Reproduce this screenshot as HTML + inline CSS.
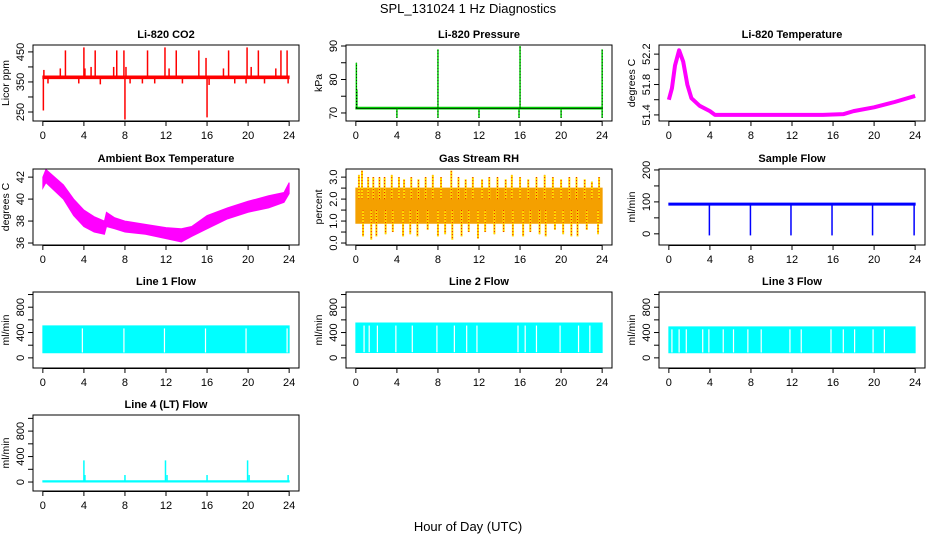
<!DOCTYPE html>
<html><head><meta charset="utf-8"><style>
body{margin:0;background:#fff}
svg{display:block;font-family:"Liberation Sans",sans-serif}
</style></head><body>
<svg id="c" width="936" height="540" xmlns="http://www.w3.org/2000/svg">
<text x="468" y="13" text-anchor="middle" font-size="13">SPL_131024  1 Hz Diagnostics</text>
<text x="468" y="531" text-anchor="middle" font-size="13">Hour of Day (UTC)</text>
</svg>
<script>
// ---- data ----
const xTicks=[0,4,8,12,16,20,24];
// CO2
const co2BandT=[0,24];const co2BandLo=[361,361];const co2BandHi=[370,370];
const co2SpikeT=[0.05,0.1,0.5,1.7,2.2,3.5,4.0,4.1,4.7,5.1,5.6,6.9,7.2,7.9,8.0,8.1,8.5,9.7,10.2,10.9,11.3,11.9,12.3,13.0,13.6,14.0,15.2,15.9,16.0,16.2,17.6,18.1,18.7,19.8,19.9,20.3,21.0,21.6,22.7,23.2,23.8,23.9];
const co2SpikeV=[255,390,345,395,455,345,465,395,400,455,342,400,455,455,225,400,345,345,455,345,370,465,395,455,345,370,455,430,232,340,395,455,345,345,465,400,455,345,395,455,455,345];
// Pressure
const prBandT=[0,24];const prBandLo=[71.2,71.2];const prBandHi=[71.7,71.7];
const prSpikeT=[0.05,0.1,4,8,8,12,15.9,16,20,24,24];
const prSpikeV=[85,77,68.5,68.5,89,68.5,68.5,90,68.5,68.5,89];
// Li-820 temperature
const ltT=[0,0.3,0.6,1,1.4,1.8,2.2,3,4,4.5,8,12,15,17,18,20,22,24];
const ltV=[51.6,51.75,52.05,52.25,52.1,51.8,51.62,51.52,51.45,51.4,51.4,51.4,51.4,51.41,51.45,51.5,51.57,51.65];
// Ambient box temperature
const amT=[0,0.3,2,3,4,5,6,6.2,7,8,10,12,13.5,14.5,16,18,20,22,23.5,24];
const amLo=[41,41.5,40,38.5,37.5,37,36.8,37.5,37.3,37,36.8,36.4,36.1,36.6,37.3,38.2,38.8,39.2,39.7,40.5];
const amHi=[42,42.7,41.3,40,39,38.4,38,38.8,38.3,38,37.7,37.4,37.3,37.5,38.5,39.2,39.8,40.3,40.6,41.5];
// Gas stream RH
const rhBandT=[0,24];const rhBandLo=[0.9,0.9];const rhBandHi=[2.5,2.5];
const rhUpT=[0.3,0.6,1.2,1.7,2.3,2.8,3.5,4.2,4.7,5.4,6.1,6.8,7.5,8.3,9.3,10.0,10.7,11.4,12.3,13.0,13.8,14.6,15.2,16.0,16.8,17.6,18.4,19.2,20.0,20.8,21.5,22.3,23.0,23.7];
const rhUpV=[3.1,3.3,3.0,3.0,3.0,3.0,3.1,3.0,2.9,3.0,2.9,3.0,3.1,3.0,3.3,3.0,2.9,3.0,2.9,3.0,3.0,2.9,3.1,3.0,2.9,3.0,3.1,3.0,2.9,3.0,3.0,2.9,2.8,3.0];
const rhDnT=[0.7,1.5,2.0,2.9,3.6,4.6,5.3,6.0,7.0,8.0,8.7,9.4,10.3,11.0,11.9,12.6,13.5,14.4,15.3,16.3,17.0,17.9,18.5,19.4,20.2,21.0,21.6,22.5,23.6];
const rhDnV=[0.3,0.15,0.3,0.4,0.5,0.3,0.4,0.3,0.6,0.3,0.4,0.15,0.3,0.5,0.2,0.5,0.4,0.5,0.3,0.3,0.5,0.4,0.3,0.6,0.4,0.3,0.3,0.6,0.4];
// Sample flow
const sfBandT=[0,24];const sfBandLo=[90,90];const sfBandHi=[96,96];
const sfSpikeT=[3.95,7.95,11.9,15.9,19.85,23.9];const sfSpikeV=[-5,-5,-5,-5,-5,-5];
// Line flows
const l1Lo=80,l1Hi=505;const l1Gaps=[3.85,7.9,11.85,15.85,19.8,23.8];
const l2Lo=85,l2Hi=550;const l2Gaps=[0.8,1.3,2.1,3.9,5.5,7.9,9.6,10.8,11.8,15.8,16.5,17.6,19.9,21.7,22.8];
const l3Lo=80,l3Hi=490;const l3Gaps=[0.3,1.0,1.7,3.3,3.9,5.3,6.3,7.7,9.0,11.8,12.9,15.8,17.0,18.1,19.9,21.0];
// Line 4
const l4SpikeT=[4.0,4.1,8.0,11.95,12.1,16.0,19.95,20.1,23.9];
const l4SpikeV=[340,110,110,340,110,110,340,110,110];

// ---- layout ----
const NS="http://www.w3.org/2000/svg",svg=document.getElementById('c');
function el(tag,attrs,parent){const e=document.createElementNS(NS,tag);for(const k in attrs)e.setAttribute(k,attrs[k]);(parent||svg).appendChild(e);return e;}
const colX=[33,346,659],rowY=[45,169,292,415],W=266,H=76;
function mkPanel(c,r,title,ylab,ymin,ymax,ticks,labels,name){
 const p={x:colX[c],y:rowY[r],ymin,ymax};
 p.sx=t=>p.x+W*(t+0.96)/25.92;
 p.sy=v=>p.y+H*(ymax-v)/(ymax-ymin);
 const g=el('g',{});
 
 
 p.g=g;
 const dg=el('g',{},g);
 
 
 p.dg=dg;
 const tt=el('text',{x:p.x+W/2,y:p.y-7,'text-anchor':'middle','font-size':11,'font-weight':'bold'},g);
 tt.textContent=title;
 
 
 const bx=el('rect',{x:p.x,y:p.y,width:W,height:H,fill:'none',stroke:'#000'},g);
 
 
 xTicks.forEach(t=>{const X=p.sx(t);el('line',{x1:X,x2:X,y1:p.y+H,y2:p.y+H+5,stroke:'#000'},g);
  const tx=el('text',{x:X,y:p.y+H+18,'text-anchor':'middle','font-size':11},g);tx.textContent=t;
  
  });
 el('line',{x1:p.sx(0),x2:p.sx(24),y1:p.y+H+0.5,y2:p.y+H+0.5,stroke:'#000'},g);
 ticks.forEach((v,i)=>{const Y=p.sy(v);el('line',{x1:p.x-5,x2:p.x,y1:Y,y2:Y,stroke:'#000'},g);
  if(labels[i]!==''){const tx=el('text',{x:p.x-9,y:Y,'text-anchor':'middle','font-size':11,transform:`rotate(-90 ${p.x-9} ${Y})`},g);tx.textContent=labels[i];
  
  }});
 const yl=el('text',{x:p.x-24,y:p.y+H/2,'text-anchor':'middle','font-size':10.5,transform:`rotate(-90 ${p.x-24} ${p.y+H/2})`},g);
 yl.textContent=ylab;
 
 
 return p;}
function band(p,T,lo,hi,fill){let pts=T.map((t,i)=>p.sx(t)+','+p.sy(hi[i]));pts=pts.concat(T.map((t,i)=>p.sx(t)+','+p.sy(lo[i])).reverse());
 const e=el('polygon',{points:pts.join(' '),fill:fill,stroke:fill,'stroke-width':1},p.dg);
 
 }
function spikes(p,T,V,base,col,w,dash){T.forEach((t,i)=>{const e=el('line',{x1:p.sx(t),x2:p.sx(t),y1:p.sy(base),y2:p.sy(V[i]),stroke:col,'stroke-width':w||1.5},p.dg);
 if(dash)e.setAttribute('stroke-dasharray',dash);
 
 });}
function line(p,T,V,col,w){const e=el('polyline',{points:T.map((t,i)=>p.sx(t)+','+p.sy(V[i])).join(' '),fill:'none',stroke:col,'stroke-width':w,'stroke-linejoin':'round'},p.dg);
 
 }

const fl=[0,200,400,600,800,1000],fll=['0','','400','','800',''];
let p=mkPanel(0,0,'Li-820 CO2','Licor ppm',220,473,[250,300,350,400,450],['250','','350','','450'],'co2');
band(p,co2BandT,co2BandLo,co2BandHi,'#f00');spikes(p,co2SpikeT,co2SpikeV,365,'#f00',1.5);
p=mkPanel(1,0,'Li-820 Pressure','kPa',67.6,90.3,[70,75,80,85,90],['70','','80','','90'],'pressure');
band(p,prBandT,prBandLo,prBandHi,'#0c0');line(p,prBandT,[71.4,71.4],'#000',0.6);spikes(p,prSpikeT,prSpikeV,71.5,'#0c0',1.5);spikes(p,prSpikeT,prSpikeV,71.5,'#000',0.7,'1 2');
p=mkPanel(2,0,'Li-820 Temperature','degrees C',51.32,52.32,[51.4,51.6,51.8,52.0,52.2],['51.4','','51.8','','52.2'],'li820-temperature');
line(p,ltT,ltV,'#f0f',4);
p=mkPanel(0,1,'Ambient Box Temperature','degrees C',35.82,42.74,[36,38,40,42],['36','38','40','42'],'ambient-temperature');
band(p,amT,amLo,amHi,'#f0f');
p=mkPanel(1,1,'Gas Stream RH','percent',-0.09,3.37,[0,0.5,1,1.5,2,2.5,3],['0.0','','1.0','','2.0','','3.0'],'gas-stream-rh');
band(p,rhBandT,rhBandLo,rhBandHi,'#f4a000');spikes(p,rhUpT,rhUpV,2,'#fd0',2);spikes(p,rhDnT,rhDnV,1.5,'#fd0',2);spikes(p,rhUpT,rhUpV,2,'#e00',1,'1 2');spikes(p,rhDnT,rhDnV,1.5,'#e00',1,'1 2');
p=mkPanel(2,1,'Sample Flow','ml/min',-35,203,[0,50,100,150,200],['0','','100','','200'],'sample-flow');
band(p,sfBandT,sfBandLo,sfBandHi,'#00f');spikes(p,sfSpikeT,sfSpikeV,93,'#00f',1.5);
[[0,'Line 1 Flow',l1Lo,l1Hi,l1Gaps,'line1-flow'],[1,'Line 2 Flow',l2Lo,l2Hi,l2Gaps,'line2-flow'],[2,'Line 3 Flow',l3Lo,l3Hi,l3Gaps,'line3-flow']].forEach(d=>{
 const q=mkPanel(d[0],2,d[1],'ml/min',-160,1040,fl,fll,d[5]);
 band(q,[0,24],[d[2],d[2]],[d[3],d[3]],'#0ff');
 spikes(q,d[4],d[4].map(()=>d[3]-40),d[2]+5,'#fff',1.2);});
p=mkPanel(0,3,'Line 4 (LT) Flow','ml/min',-141,1053,fl,fll,'line4-flow');
band(p,[0,24],[0,0],[20,20],'#0ff');spikes(p,l4SpikeT,l4SpikeV,10,'#0ff',1.5);
</script>
</body></html>
